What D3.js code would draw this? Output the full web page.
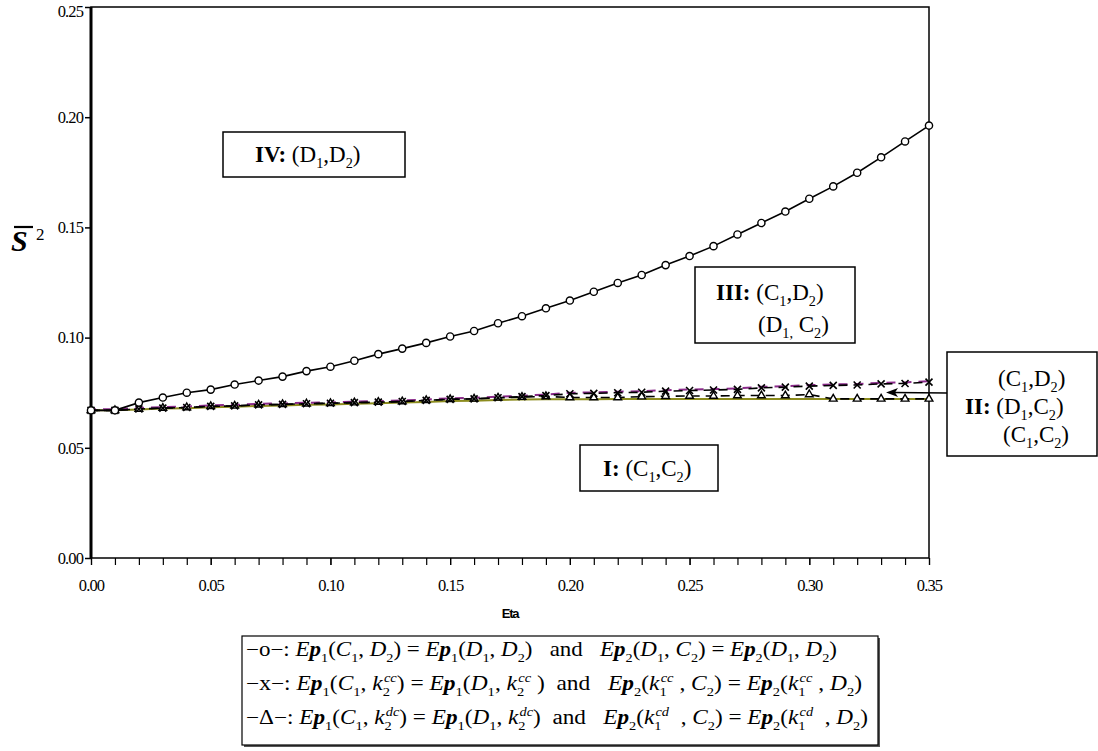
<!DOCTYPE html>
<html><head><meta charset="utf-8">
<script src="https://cdn.jsdelivr.net/npm/d3@7"></script>
<style>
body{margin:0;background:#fff;}
svg{display:block;}
text{white-space:pre;}
</style></head>
<body>
<svg id="c" width="1098" height="751"></svg>
<script>
// ---------- data ----------
const eta = [0.00,0.01,0.02,0.03,0.04,0.05,0.06,0.07,0.08,0.09,0.10,0.11,0.12,0.13,0.14,0.15,0.16,0.17,0.18,0.19,
             0.20,0.21,0.22,0.23,0.24,0.25,0.26,0.27,0.28,0.29,0.30,0.31,0.32,0.33,0.34,0.35];
const seriesO = [0.0670,0.0670,0.0705,0.0728,0.0750,0.0764,0.0787,0.0805,0.0823,0.0848,0.0868,0.0895,0.0925,0.0950,0.0976,0.1005,0.1030,0.1065,0.1097,0.1133,
                 0.1168,0.1208,0.1248,0.1284,0.1329,0.1370,0.1415,0.1468,0.1520,0.1572,0.1630,0.1686,0.1748,0.1818,0.1890,0.1962];
const seriesX = [0.0670,0.0670,0.0676,0.0680,0.0683,0.0688,0.0690,0.0695,0.0697,0.0700,0.0702,0.0705,0.0707,0.0710,0.0715,0.0720,0.0722,0.0727,0.0732,0.0737,
                 0.0745,0.0747,0.0750,0.0752,0.0757,0.0760,0.0762,0.0765,0.0772,0.0775,0.0780,0.0783,0.0785,0.0790,0.0792,0.0798];
const seriesT = [0.0670,0.0670,0.0676,0.0680,0.0683,0.0688,0.0690,0.0695,0.0697,0.0700,0.0702,0.0705,0.0707,0.0710,0.0715,0.0720,0.0722,0.0727,0.0730,0.0733,
                 0.0728,0.0728,0.0728,0.0732,0.0734,0.0735,0.0735,0.0737,0.0737,0.0737,0.0742,0.0722,0.0722,0.0722,0.0722,0.0722];
const seriesT2 = [0.0670,0.0670,0.0674,0.0678,0.0680,0.0684,0.0686,0.0690,0.0692,0.0695,0.0697,0.0700,0.0702,0.0705,0.0708,0.0712,0.0714,0.0717,0.0719,0.0720,
                  0.0720,0.0720,0.0721,0.0721,0.0721,0.0721,0.0721,0.0721,0.0721,0.0721,0.0721,0.0721,0.0721,0.0721,0.0721,0.0721];
const yTicks = [0.00,0.05,0.10,0.15,0.20,0.25];
const xMajor = [0.00,0.05,0.10,0.15,0.20,0.25,0.30,0.35];

const SERIF = "'Liberation Serif','Times New Roman',serif";
const svg = d3.select("#c").style("font-family",SERIF);
const x = d3.scaleLinear().domain([0,0.35]).range([91,929]);
const y = d3.scaleLinear().domain([0,0.25]).range([558,7]);

// ---------- axes ----------
const gy = svg.append("g").attr("transform","translate(91,0)")
  .call(d3.axisLeft(y).tickValues(yTicks).tickFormat(d3.format(".2f")).tickSize(6).tickPadding(2));
gy.attr("font-family",null);
gy.select(".domain").remove();
gy.selectAll(".tick line").attr("stroke","#000").attr("stroke-width",1.5);
gy.selectAll(".tick text").style("font-family",SERIF).style("font-size","16.5px").style("letter-spacing","-0.9px").attr("fill","#000");
gy.selectAll(".tick text").filter(d=>d===0.25).attr("dy","0.55em");

const gxm = svg.append("g").attr("transform","translate(0,558)")
  .call(d3.axisBottom(x).tickValues(eta).tickFormat("").tickSize(7));
gxm.select(".domain").remove();
gxm.selectAll(".tick line").attr("stroke","#000").attr("stroke-width",1.2);
const gx = svg.append("g").attr("transform","translate(0,558)")
  .call(d3.axisBottom(x).tickValues(xMajor).tickFormat(d3.format(".2f")).tickSize(7).tickPadding(14));
gx.attr("font-family",null);
gx.select(".domain").remove();
gx.selectAll(".tick line").attr("stroke","#000").attr("stroke-width",1.2);
gx.selectAll(".tick text").style("font-family",SERIF).style("font-size","16.5px").style("letter-spacing","-0.9px").attr("fill","#000");

// frame
svg.append("rect").attr("x",x(0)).attr("y",y(0.25)).attr("width",x(0.35)-x(0)).attr("height",y(0)-y(0.25))
  .attr("fill","none").attr("stroke","#000").attr("stroke-width",1.5);
svg.append("line").attr("x1",x(0)).attr("x2",x(0)).attr("y1",y(0.25)).attr("y2",y(0)).attr("stroke","#000").attr("stroke-width",3);

// axis titles
svg.append("text").attr("x",510).attr("y",618).attr("text-anchor","middle")
  .style("font-family","'Liberation Sans Narrow','Liberation Sans',Arial").style("font-weight","bold")
  .style("font-size","13px").style("letter-spacing","-1.2px").text("Eta");
const yt = svg.append("g").attr("transform","translate(11,251)");
yt.append("text").attr("x",0).attr("y",0).style("font-size","30px").style("font-weight","bold").style("font-style","italic").text("S");
yt.append("line").attr("x1",3).attr("x2",22).attr("y1",-24).attr("y2",-24).attr("stroke","#000").attr("stroke-width",2.2);
yt.append("text").attr("x",25).attr("y",-11).style("font-size","17px").text("2");

// ---------- lines ----------
const pts = s => eta.map((e,i)=>[e,s[i]]);
const line = d3.line().x(d=>x(d[0])).y(d=>y(d[1]));

svg.append("path").attr("d",line(pts(seriesT2))).attr("fill","none").attr("stroke","#8c8c1e").attr("stroke-width",2);
svg.append("path").attr("d",line(pts(seriesX))).attr("fill","none").attr("stroke","#8a2a8a").attr("stroke-width",2)
  .attr("stroke-dasharray","9,7").attr("stroke-dashoffset",4).attr("transform","translate(0,-1)");
svg.append("path").attr("d",line(pts(seriesT))).attr("fill","none").attr("stroke","#000").attr("stroke-width",1.6).attr("stroke-dasharray","9,6");
svg.append("path").attr("d",line(pts(seriesX))).attr("fill","none").attr("stroke","#000").attr("stroke-width",1.6).attr("stroke-dasharray","9,6").attr("stroke-dashoffset",2);
svg.append("path").attr("d",line(pts(seriesO))).attr("fill","none").attr("stroke","#000").attr("stroke-width",1.6);

// markers
svg.append("g").selectAll("path").data(pts(seriesT)).join("path")
  .attr("d",d3.symbol(d3.symbolTriangle,26)).attr("transform",d=>`translate(${x(d[0])},${y(d[1])})`)
  .attr("fill","#fff").attr("stroke","#000").attr("stroke-width",1.4);
svg.append("g").selectAll("path").data(pts(seriesX)).join("path")
  .attr("d","M-3.5,-3.5L3.5,3.5M-3.5,3.5L3.5,-3.5").attr("transform",d=>`translate(${x(d[0])},${y(d[1])})`)
  .attr("fill","none").attr("stroke","#000").attr("stroke-width",1.6);
svg.append("g").selectAll("circle").data(pts(seriesO)).join("circle")
  .attr("cx",d=>x(d[0])).attr("cy",d=>y(d[1])).attr("r",3.6)
  .attr("fill","#fff").attr("stroke","#000").attr("stroke-width",1.4);

// ---------- rich text helper ----------
function rich(g, x0, y0, segs, fs){
  let cx = x0;
  const sf = fs*0.62, dSub = fs*0.28, dSup = fs*0.42;
  segs.forEach(s=>{
    const [k,t,t2] = s;
    if(k==="ss"){ // stacked sub t, sup t2
      const a = g.append("text").attr("x",cx).attr("y",y0+dSub).style("font-size",sf+"px").text(t);
      const b = g.append("text").attr("x",cx+1).attr("y",y0-dSup).style("font-size",sf+"px").style("font-style","italic").text(t2);
      cx += Math.max(a.node().getComputedTextLength(), b.node().getComputedTextLength()+1);
      return;
    }
    const e = g.append("text").attr("x",cx).attr("y",y0).text(t).style("font-size",fs+"px");
    if(k==="i") e.style("font-style","italic");
    if(k==="b") e.style("font-style","italic").style("font-weight","bold");
    if(k==="bd") e.style("font-weight","bold");
    if(k==="sub") e.style("font-size",sf+"px").attr("y",y0+dSub);
    if(k==="sup") e.style("font-size",sf+"px").attr("y",y0-dSup).style("font-style","italic");
    cx += e.node().getComputedTextLength();
  });
  return cx - x0;
}
function fitRow(parent, x0, y0, segs, fs, target){
  const g = parent.append("g");
  const w = rich(g, 0, 0, segs, fs);
  g.attr("transform",`translate(${x0},${y0}) scale(${target/w},1)`);
}

// ---------- region boxes ----------
function box(x0,y0,w,h){
  svg.append("rect").attr("x",x0).attr("y",y0).attr("width",w).attr("height",h)
    .attr("fill","#fff").attr("stroke","#000").attr("stroke-width",1.5);
}
const BF = 23;
box(223,132,182,45);
rich(svg, 255, 162, [["bd","IV: "],["n","(D"],["sub","1"],["n",",D"],["sub","2"],["n",")"]], BF);

box(695,267,160,76);
rich(svg, 716, 300, [["bd","III: "],["n","(C"],["sub","1"],["n",",D"],["sub","2"],["n",")"]], BF);
rich(svg, 758, 332, [["n","(D"],["sub","1,"],["n"," C"],["sub","2"],["n",")"]], BF);

box(580,445,138,46);
rich(svg, 603, 476, [["bd","I: "],["n","(C"],["sub","1"],["n",",C"],["sub","2"],["n",")"]], BF);

// arrow to II
svg.append("line").attr("x1",947).attr("y1",393).attr("x2",893).attr("y2",392.5).attr("stroke","#000").attr("stroke-width",1.5);
svg.append("path").attr("d","M886,392.5 L898,388 L895,392.5 L898,397 Z").attr("fill","#000");

box(947,352,150,104);
rich(svg, 998, 386, [["n","(C"],["sub","1"],["n",",D"],["sub","2"],["n",")"]], BF);
rich(svg, 965, 414, [["bd","II: "],["n","(D"],["sub","1"],["n",",C"],["sub","2"],["n",")"]], BF);
rich(svg, 1003, 442, [["n","(C"],["sub","1"],["n",",C"],["sub","2"],["n",")"]], BF);

// ---------- legend ----------
svg.append("rect").attr("x",244).attr("y",638).attr("width",636).attr("height",109).attr("fill","#555");
svg.append("rect").attr("x",242).attr("y",636).attr("width",636).attr("height",109).attr("fill","#fff").attr("stroke","#000").attr("stroke-width",1.2);

const E1 = [["i","E"],["b","p"],["sub","1"]];
const E2 = [["i","E"],["b","p"],["sub","2"]];
const legRows = [
  [["n","\u2212o\u2212: "],...E1,["n","("],["i","C"],["sub","1"],["n",", "],["i","D"],["sub","2"],["n",") = "],...E1,["n","("],["i","D"],["sub","1"],["n",", "],["i","D"],["sub","2"],["n",")   and   "],
   ...E2,["n","("],["i","D"],["sub","1"],["n",", "],["i","C"],["sub","2"],["n",") = "],...E2,["n","("],["i","D"],["sub","1"],["n",", "],["i","D"],["sub","2"],["n",")"]],
  [["n","\u2212x\u2212: "],...E1,["n","("],["i","C"],["sub","1"],["n",", "],["i","k"],["ss","2","cc"],["n",") = "],...E1,["n","("],["i","D"],["sub","1"],["n",", "],["i","k"],["ss","2","cc"],["n"," )  and   "],
   ...E2,["n","("],["i","k"],["ss","1","cc"],["n"," , "],["i","C"],["sub","2"],["n",") = "],...E2,["n","("],["i","k"],["ss","1","cc"],["n"," , "],["i","D"],["sub","2"],["n",")"]],
  [["n","\u2212\u0394\u2212: "],...E1,["n","("],["i","C"],["sub","1"],["n",", "],["i","k"],["ss","2","dc"],["n",") = "],...E1,["n","("],["i","D"],["sub","1"],["n",", "],["i","k"],["ss","2","dc"],["n",")  and   "],
   ...E2,["n","("],["i","k"],["ss","1","cd"],["n","  , "],["i","C"],["sub","2"],["n",") = "],...E2,["n","("],["i","k"],["ss","1","cd"],["n","  , "],["i","D"],["sub","2"],["n",")"]]
];
const legY = [656, 690, 724];
const legW = [591, 616, 622];
legRows.forEach((r,i)=>fitRow(svg, 246, legY[i], r, 20, legW[i]));
</script>
</body></html>
